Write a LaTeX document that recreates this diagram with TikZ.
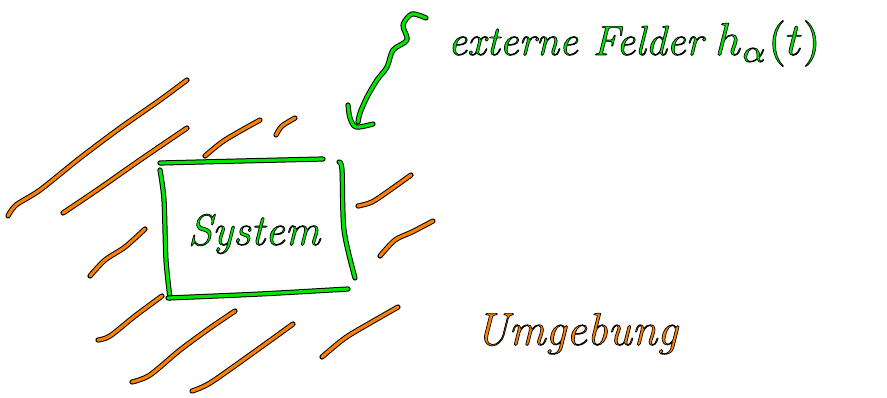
\documentclass[tikz,border=0pt]{standalone}
\usepackage{graphicx}
\newcommand{\outl}[2]{\special{pdf:literal direct 2 Tr 0 G #1 w}#2\special{pdf:literal direct 0 Tr}}
\tikzset{
  stroke/.style={line width=1pt, double distance=3.2pt, draw=black, line cap=round, line join=round},
  orangestroke/.style={stroke, double={rgb,255:red,255;green,128;blue,0}},
  greenstroke/.style={stroke, double={rgb,255:red,0;green,230;blue,0}},
  label/.style={inner sep=0pt, anchor=base west}
}
\definecolor{hgreen}{RGB}{0,230,0}
\definecolor{horange}{RGB}{255,128,0}
\begin{document}
\begin{tikzpicture}[x=1pt,y=-1pt]
\useasboundingbox (0,0) rectangle (887,397);
% orange hatching
\draw[orangestroke] plot[smooth] coordinates {(8,216) (16,205) (40,190) (80,158) (120,128) (160,100) (187,80)};
\draw[orangestroke] plot[smooth] coordinates {(63,213) (100,188) (140,160) (187,128)};
\draw[orangestroke] plot[smooth] coordinates {(205,156) (225,140) (260,120)};
\draw[orangestroke] plot[smooth] coordinates {(276,135) (282,126) (295,118)};
\draw[orangestroke] plot[smooth] coordinates {(358,206) (372,202) (390,190) (411,175)};
\draw[orangestroke] plot[smooth] coordinates {(380,256) (395,240) (412,232) (433,221)};
\draw[orangestroke] plot[smooth] coordinates {(90,276) (105,260) (125,247) (145,229)};
\draw[orangestroke] plot[smooth] coordinates {(98,340) (110,336) (135,316) (162,296)};
\draw[orangestroke] plot[smooth] coordinates {(132,382) (150,375) (180,350) (210,328) (235,311)};
\draw[orangestroke] plot[smooth] coordinates {(192,391) (210,383) (250,355) (293,324)};
\draw[orangestroke] plot[smooth] coordinates {(322,357) (345,338) (370,323) (398,307)};
% green box
\draw[greenstroke] plot[smooth] coordinates {(160,163) (240,161) (323,159)};
\draw[greenstroke] plot[smooth] coordinates {(160,170) (164,200) (166,260) (170,298)};
\draw[greenstroke] plot[smooth] coordinates {(168,298) (260,294) (348,289)};
\draw[greenstroke] plot[smooth] coordinates {(339,162) (342,170) (344,230) (355,278)};
% arrow
\draw[greenstroke] plot[smooth] coordinates {(426,18) (412,14) (403,25) (407,40) (393,50) (387,67) (377,80) (367,97) (360,113) (358,122)};
\draw[greenstroke] plot[smooth] coordinates {(348,105) (350,118) (356,127) (373,124)};
% texts
\node[label, text=hgreen, font=\itshape\fontsize{42}{46}\selectfont] (ext) at (448,55) {\outl{0.7}{externe Felder}\hspace{0.3em}\scalebox{4.6}{\fontsize{10}{12}\selectfont\outl{0.15}{$h_\alpha(t)$}}};
\node[inner sep=0pt, text=hgreen, font=\itshape\fontsize{44}{48}\selectfont] (sys) at (254,234) {\outl{0.7}{System}};
\node[label, text=horange, font=\itshape\fontsize{46}{50}\selectfont] (umg) at (475,345) {\outl{0.7}{Umgebung}};
\end{tikzpicture}
\end{document}
